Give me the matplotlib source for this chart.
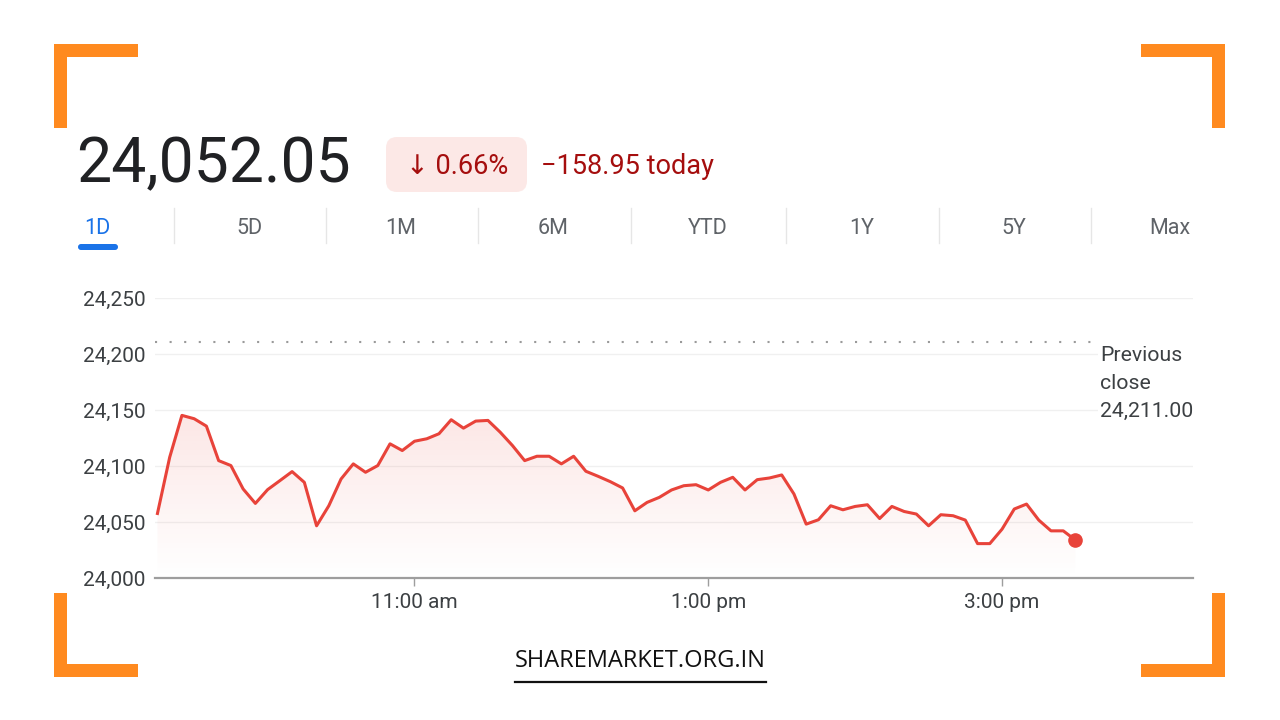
import matplotlib.pyplot as plt
import matplotlib.dates as mdates
import numpy as np
import pandas as pd
from matplotlib.colors import to_rgb
from matplotlib.patches import Rectangle, FancyBboxPatch

plt.rcParams['font.family'] = ['Roboto', 'DejaVu Sans']

# intraday 5-minute prices (9:15 to 3:30)
prices = [24057.6, 24107.8, 24145.2, 24142.2, 24135.6, 24104.8, 24100.4, 24079.5,
          24066.6, 24078.9, 24086.9, 24095.0, 24085.4, 24046.6, 24064.5, 24088.4,
          24101.9, 24094.4, 24100.4, 24119.8, 24113.8, 24122.1, 24124.3, 24128.8,
          24141.3, 24133.8, 24140.1, 24140.7, 24130.2, 24118.3, 24104.8, 24108.7,
          24108.7, 24101.9, 24108.7, 24095.3, 24090.8, 24086.0, 24080.4, 24060.0,
          24067.5, 24072.0, 24078.6, 24082.4, 24083.3, 24078.6, 24085.4, 24089.9,
          24078.6, 24087.8, 24089.3, 24092.0, 24075.0, 24048.1, 24052.0, 24064.5,
          24060.9, 24063.9, 24065.4, 24053.1, 24063.9, 24059.4, 24057.1, 24046.6,
          24056.5, 24055.6, 24051.7, 24030.7, 24030.7, 24043.6, 24061.6, 24066.0,
          24051.7, 24042.1, 24042.1, 24033.8]
times = pd.date_range('2024-10-01 09:15', periods=len(prices), freq='5min')
prev_close = 24211.00

y_ticks = [24000, 24050, 24100, 24150, 24200, 24250]
y_labels = ['24,000', '24,050', '24,100', '24,150', '24,200', '24,250']
x_ticks = pd.to_datetime(['2024-10-01 11:00', '2024-10-01 13:00', '2024-10-01 15:00'])
x_labels = ['11:00 am', '1:00 pm', '3:00 pm']
tabs = ['1D', '5D', '1M', '6M', 'YTD', '1Y', '5Y', 'Max']

last_price = '24,052.05'
pct_change = '↓ 0.66%'
abs_change = '\u2212158.95 today'

red = '#e8433a'
dark_red = '#a50e0e'
grey_text = '#3c4043'
orange = '#ff8a1f'

fig = plt.figure(figsize=(12.8, 7.2), dpi=100)

# pixel-space overlay for the header, tabs, frame and footer
bg = fig.add_axes([0, 0, 1, 1])
bg.set_xlim(0, 1280)
bg.set_ylim(720, 0)
bg.axis('off')

# orange corner brackets
for x, y, w, h in [(54, 44, 84, 13), (54, 44, 13, 84),
                   (1141, 44, 84, 13), (1212, 44, 13, 84),
                   (54, 664, 84, 13), (54, 593, 13, 84),
                   (1141, 664, 84, 13), (1212, 593, 13, 84)]:
    bg.add_patch(Rectangle((x, y), w, h, color=orange, lw=0))

# header
bg.text(76, 165, last_price, fontsize=45, color='#202124', va='center', ha='left')
bg.add_patch(FancyBboxPatch((386, 137), 141, 55, boxstyle='round,pad=0,rounding_size=11',
                            fc='#fce8e6', ec='none'))
bg.text(457, 166, pct_change, fontsize=19.5, color=dark_red, va='center', ha='center')
bg.text(541, 166, abs_change, fontsize=19.5, color=dark_red, va='center', ha='left')

# range tabs
tab_x = [97, 249, 401, 553, 708, 862, 1014, 1170]
for i, (label, tx) in enumerate(zip(tabs, tab_x)):
    bg.text(tx, 228, label, fontsize=15.5, va='center', ha='center',
            color='#1a73e8' if i == 0 else '#5f6368')
for sx in [174, 326, 478, 631, 786, 939, 1091]:
    bg.plot([sx, sx], [208, 243], color='#e6e6e6', lw=1)
bg.add_patch(FancyBboxPatch((78, 244), 40, 6, boxstyle='round,pad=0,rounding_size=3',
                            fc='#1a73e8', ec='none'))

# footer
bg.text(640, 661, 'SHAREMARKET.ORG.IN', fontsize=17, family=['Open Sans', 'DejaVu Sans'],
        color='#111111', va='center', ha='center')
bg.plot([515, 766], [682, 682], color='#111111', lw=1.6)

# price chart
ax = fig.add_axes([155 / 1280, (720 - 578) / 720, (1193 - 155) / 1280, (578 - 298) / 720])
ax.patch.set_alpha(0)
ax.set_ylim(24000, 24250)
ax.set_xlim(pd.Timestamp('2024-10-01 09:14'), pd.Timestamp('2024-10-01 16:18'))

ax.grid(axis='y', color='#f0f0f0', lw=1)
ax.set_axisbelow(True)
for s in ['top', 'right', 'left']:
    ax.spines[s].set_visible(False)
ax.spines['bottom'].set_color('#9e9e9e')
ax.spines['bottom'].set_linewidth(1.6)

ax.set_yticks(y_ticks)
ax.set_yticklabels(y_labels)
ax.set_xticks(x_ticks)
ax.set_xticklabels(x_labels)
ax.tick_params(axis='y', length=0, pad=7, labelsize=15, labelcolor=grey_text)
ax.tick_params(axis='x', length=6, width=1, color='#9e9e9e', pad=5,
               labelsize=15, labelcolor=grey_text)

# previous close reference
ax.hlines(prev_close, pd.Timestamp('2024-10-01 09:14'), pd.Timestamp('2024-10-01 15:38'),
          color='#9a9a9a', lw=1.5, linestyles=(0, (1, 6)))
ax.text(1100, 346, 'Previous\nclose\n24,211.00', transform=bg.transData, ha='left', va='top',
        fontsize=15.3, color=grey_text, linespacing=1.6, zorder=6, clip_on=False,
        bbox=dict(boxstyle='square,pad=0.1', fc='white', ec='none'))

# gradient fill under the line
poly = ax.fill_between(times, prices, 24000, color='none', lw=0)
xn = mdates.date2num(times)
img = np.zeros((256, 1, 4))
img[..., :3] = to_rgb(red)
img[..., 3] = np.linspace(0.0, 0.13, 256)[:, None]
im = ax.imshow(img, extent=[xn[0], xn[-1], 24000, max(prices)], origin='lower',
               aspect='auto', zorder=1)
im.set_clip_path(poly.get_paths()[0], transform=ax.transData)

ax.plot(times, prices, color=red, lw=2.2, zorder=3, solid_joinstyle='round')
ax.plot(times[-1], prices[-1], 'o', color=red, ms=9.5, zorder=4)

fig.savefig('out.png', dpi=100, facecolor='white')
